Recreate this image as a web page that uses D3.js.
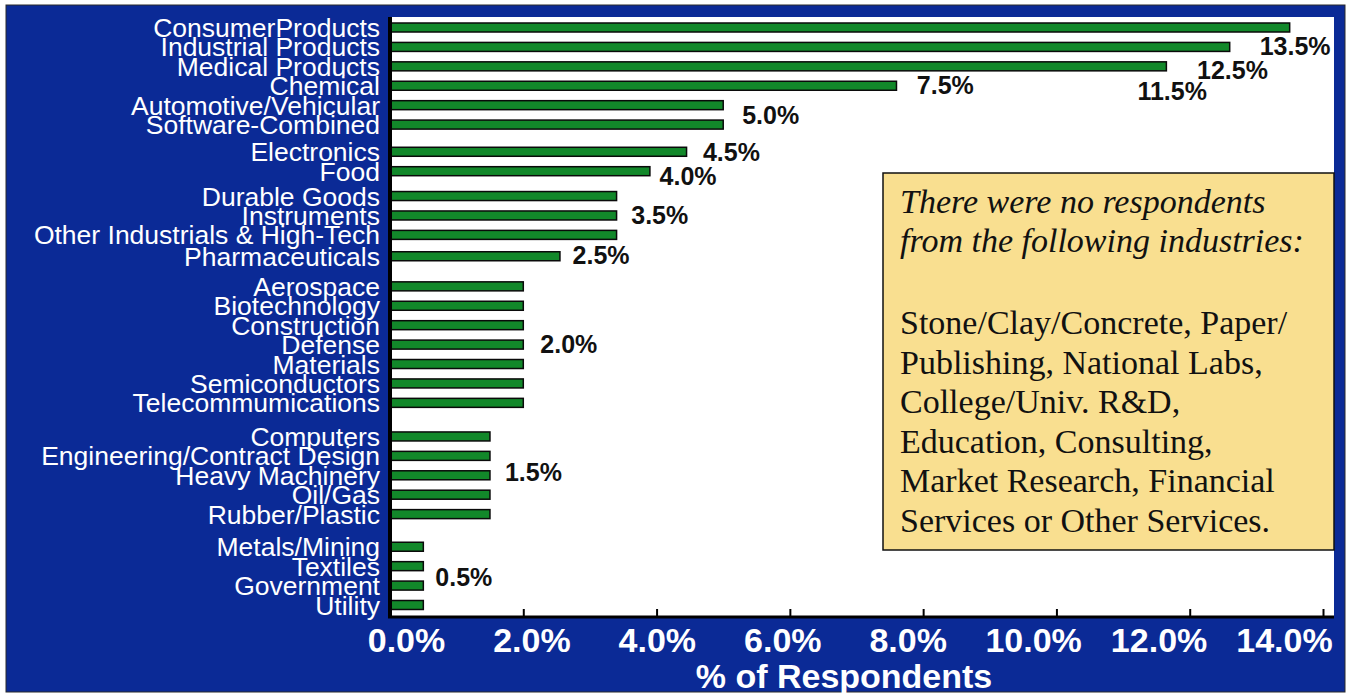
<html>
<head>
<script src="https://cdn.jsdelivr.net/npm/d3@7"></script>
<style>
body {
  margin: 0;
  background: #fff;
}
svg {
  display: block;
}
.cats text {
  font-family: "Liberation Sans", Arial, sans-serif;
  font-size: 26.5px;
  fill: #fff;
}
.xlabels text {
  font-family: "Liberation Sans", Arial, sans-serif;
  font-size: 34px;
  font-weight: bold;
  fill: #fff;
}
.vlabel {
  font-family: "Liberation Sans", Arial, sans-serif;
  font-size: 25px;
  font-weight: bold;
  fill: #111;
}
.note text {
  font-family: "Liberation Serif", "Times New Roman", serif;
  font-size: 34px;
  fill: #111;
}
</style>
</head>

<body>

<svg width="1350" height="696"></svg>

<script>
  // industries, top to bottom
  var categories = ["ConsumerProducts", "Industrial Products", "Medical Products", "Chemical",
    "Automotive/Vehicular", "Software-Combined", "Electronics", "Food", "Durable Goods",
    "Instruments", "Other Industrials & High-Tech", "Pharmaceuticals",
    "Aerospace", "Biotechnology", "Construction", "Defense", "Materials", "Semiconductors",
    "Telecommumications", "Computers", "Engineering/Contract Design", "Heavy Machinery",
    "Oil/Gas", "Rubber/Plastic", "Metals/Mining", "Textiles", "Government", "Utility"];
  // % of respondents, as drawn
  var values = [13.5, 12.6, 11.65, 7.6, 5.0, 5.0, 4.45, 3.9, 3.4, 3.4, 3.4, 2.55,
    2.0, 2.0, 2.0, 2.0, 2.0, 2.0, 2.0, 1.5, 1.5, 1.5, 1.5, 1.5, 0.5, 0.5, 0.5, 0.5];

  // the value labels and the row each one sits next to
  var labelTexts = ["13.5%", "12.5%", "11.5%", "7.5%", "5.0%", "4.5%", "4.0%", "3.5%",
    "2.5%", "2.0%", "1.5%", "0.5%"];
  var labelValues = [13.5, 12.5, 11.5, 7.5, 5.0, 4.5, 4.0, 3.5, 2.5, 2.0, 1.5, 0.5];
  var labelRows = ["Industrial Products", "Medical Products", "Chemical", "Chemical",
    "Software-Combined", "Electronics", "Food", "Instruments", "Pharmaceuticals",
    "Defense", "Heavy Machinery", "Textiles"];

  var tickValues = [0, 2, 4, 6, 8, 10, 12, 14];
  var tickLabels = ["0.0%", "2.0%", "4.0%", "6.0%", "8.0%", "10.0%", "12.0%", "14.0%"];
  var axisTitle = "% of Respondents";

  var noteItalic = ["There were no respondents", "from the following industries:"];
  var noteLines = ["Stone/Clay/Concrete, Paper/", "Publishing, National Labs,",
    "College/Univ. R&D,", "Education, Consulting,", "Market Research, Financial",
    "Services or Other Services."];

  // layout
  var W = 1350, H = 696;
  var plot = {left: 390, right: 1334, top: 17, bottom: 617};
  var blue = "#0b2a96";
  var green = "#12882a";
  var barH = 9;

  // extra space (in rows) below some rows, as in the picture
  var gapAfter = {"Software-Combined": 0.4, "Food": 0.28, "Other Industrials & High-Tech": 0.1,
    "Pharmaceuticals": 0.55, "Telecommumications": 0.73, "Rubber/Plastic": 0.68};
  // label nudges in px (dx from value end, dy from row centre)
  var labelNudge = [[-30, -1], [-26, 4], [-19, 5], [27, -1], [19, -9], [13, 0], [3, 5],
    [8, 0], [16, -1], [17, 0], [15, -3], [12, 11]];

  var slot = {};
  var acc = 0;
  categories.forEach(function(c, i) {
    slot[c] = acc;
    acc += 1 + (gapAfter[c] || 0);
  });
  var lastSlot = slot[categories[categories.length - 1]];

  var x = d3.scaleLinear().domain([0, 14]).range([plot.left, 1323]);
  // tick labels in the picture sit on their own, slightly narrower spread
  var xl = d3.scaleLinear().domain([0, 14]).range([406, 1284]);
  var y = d3.scaleLinear().domain([0, lastSlot]).range([27.5, 605]);

  var svg = d3.select("svg");

  svg.append("rect")
    .attr("x", 6).attr("y", 5)
    .attr("width", 1339).attr("height", 687)
    .attr("fill", blue)
    .attr("stroke", "#2a2a2a")
    .attr("stroke-width", 1);

  svg.append("rect")
    .attr("x", plot.left).attr("y", plot.top)
    .attr("width", plot.right - plot.left)
    .attr("height", plot.bottom - plot.top)
    .attr("fill", "#fff");

  // bars
  svg.append("g")
    .selectAll("rect")
    .data(categories)
    .enter().append("rect")
    .attr("x", x(0))
    .attr("y", function(d) { return y(slot[d]) - barH / 2; })
    .attr("width", function(d, i) { return x(values[i]) - x(0); })
    .attr("height", barH)
    .attr("fill", green)
    .attr("stroke", "#0a0a0a")
    .attr("stroke-width", 1.5);

  // value labels
  svg.append("g")
    .selectAll("text")
    .data(labelTexts)
    .enter().append("text")
    .attr("class", "vlabel")
    .attr("x", function(d, i) { return x(labelValues[i]) + labelNudge[i][0]; })
    .attr("y", function(d, i) { return y(slot[labelRows[i]]) + labelNudge[i][1]; })
    .attr("dy", "0.35em")
    .text(function(d) { return d; });

  // category axis
  var catAxis = d3.axisLeft(y)
    .tickValues(categories.map(function(c) { return slot[c]; }))
    .tickFormat(function(v) { return categories.find(function(c) { return slot[c] === v; }); })
    .tickSize(0)
    .tickPadding(10);
  var gc = svg.append("g")
    .attr("class", "cats")
    .attr("transform", "translate(" + plot.left + ",0)")
    .call(catAxis);
  gc.select(".domain").remove();
  gc.selectAll("text").attr("dy", "0.34em");

  // bottom axis line and ticks
  var tickAxis = d3.axisBottom(x)
    .tickValues(tickValues)
    .tickSize(-8)
    .tickSizeOuter(0)
    .tickFormat("");
  var gt = svg.append("g")
    .attr("transform", "translate(0," + plot.bottom + ")")
    .call(tickAxis);
  gt.select(".domain")
    .attr("d", "M" + (plot.left - 2) + ",0H" + plot.right)
    .attr("stroke", "#000")
    .attr("stroke-width", 3);
  gt.selectAll(".tick line").attr("stroke", "#000").attr("stroke-width", 2);

  // left axis line
  svg.append("line")
    .attr("x1", plot.left).attr("x2", plot.left)
    .attr("y1", plot.top).attr("y2", plot.bottom + 1)
    .attr("stroke", "#000")
    .attr("stroke-width", 4);

  // tick labels
  var labelAxis = d3.axisBottom(xl)
    .tickValues(tickValues)
    .tickSize(0)
    .tickPadding(0)
    .tickFormat(function(d, i) { return tickLabels[i]; });
  var gx = svg.append("g")
    .attr("class", "xlabels")
    .attr("transform", "translate(0,652)")
    .call(labelAxis);
  gx.select(".domain").remove();
  gx.selectAll("text").attr("dy", 0).attr("y", 0);

  svg.append("text")
    .attr("x", 844)
    .attr("y", 688)
    .attr("text-anchor", "middle")
    .attr("font-family", "'Liberation Sans', Arial, sans-serif")
    .attr("font-size", "34px")
    .attr("font-weight", "bold")
    .attr("fill", "#fff")
    .text(axisTitle);

  // note box
  var note = svg.append("g").attr("class", "note");
  note.append("rect")
    .attr("x", 883).attr("y", 173)
    .attr("width", 451).attr("height", 377)
    .attr("fill", "#f9df90")
    .attr("stroke", "#111")
    .attr("stroke-width", 1.5);

  note.selectAll("text.it")
    .data(noteItalic)
    .enter().append("text")
    .attr("class", "it")
    .attr("x", 900)
    .attr("y", function(d, i) { return 213 + i * 39; })
    .attr("font-style", "italic")
    .text(function(d) { return d; });

  note.selectAll("text.rg")
    .data(noteLines)
    .enter().append("text")
    .attr("class", "rg")
    .attr("x", 900)
    .attr("y", function(d, i) { return 334 + i * 39.5; })
    .text(function(d) { return d; });
</script>

</body>
</html>
